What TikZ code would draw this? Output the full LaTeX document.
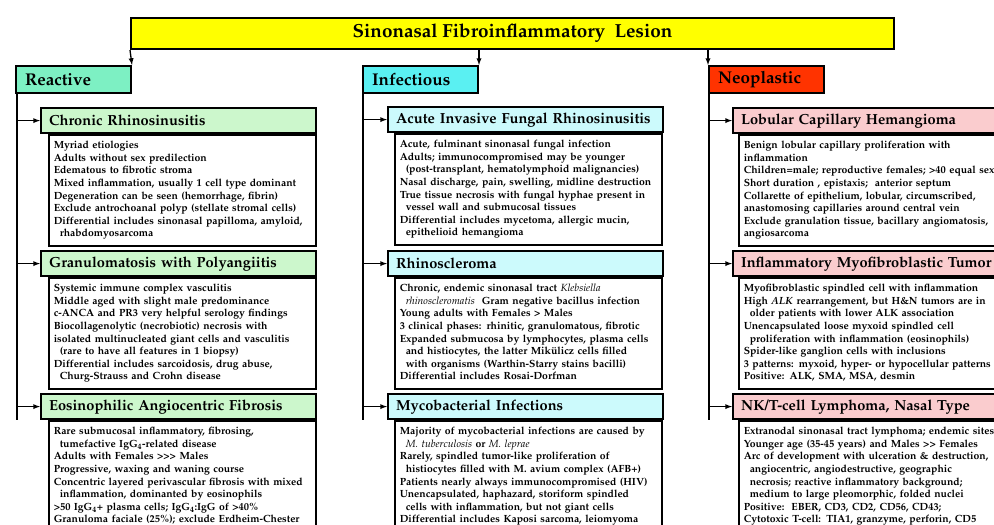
\documentclass[tikz,border=0pt]{standalone}
\usepackage[T1]{fontenc}
\usepackage{mathpazo}
\usepackage{xcolor}
\usepackage{tikz}
\usetikzlibrary{positioning, arrows}
\definecolor{lesionyellow}{RGB}{255,255,0}
\definecolor{reactgreen}{RGB}{125,240,195}
\definecolor{infectcyan}{RGB}{90,240,242}
\definecolor{neored}{RGB}{255,51,0}
\definecolor{palegreen}{RGB}{204,247,204}
\definecolor{palecyan}{RGB}{204,250,252}
\definecolor{palepink}{RGB}{250,204,206}
\newcommand{\indnt}{\hspace*{6pt}}
\newcommand{\gt}{\textgreater{}}
\newcommand{\celllines}[1]{\begin{tabular}{@{}l@{}}#1\end{tabular}}

\begin{document}
\begin{tikzpicture}[x=1pt, y=-1pt,
	lesion/.style={draw, line width=2pt, fill=lesionyellow, anchor=north west, minimum width=763pt, minimum height=31pt, font=\fontsize{18.9}{20}\bfseries\selectfont},
	group/.style={draw, line width=2pt, anchor=north west, minimum height=27pt, inner xsep=9pt, text width=97pt, align=left, font=\fontsize{17}{19}\bfseries\selectfont},
	entity/.style={draw, line width=2.2pt, anchor=north west, minimum height=25pt, inner xsep=8pt, text width=259pt, align=left, font=\fontsize{14.6}{17}\bfseries\selectfont},
	detail/.style={draw, line width=1.5pt, fill=white, anchor=north west, minimum height=110pt, inner xsep=5pt, inner ysep=5pt, text width=257pt, align=left, font=\fontsize{10.4}{12.6}\bfseries\selectfont},
	arr/.style={-latex, line width=1.3pt},
	trunk/.style={line width=1.6pt}]
	\useasboundingbox (0,0) rectangle (994,525);
	\clip (0,0) rectangle (994,525);
	
	\node[lesion] (lesion) at (130,17) {Sinonasal Fibroinflammatory\ \ Lesion};
	\node[group, fill=reactgreen] (reactive) at (15,65) {Reactive};
	\node[group, fill=infectcyan] (infectious) at (362,65) {Infectious};
	\node[group, fill=neored] (neoplastic) at (708,65) {Neoplastic};
	
	\draw[arr] (lesion.south west) -- (reactive.north east);
	\draw[arr] (lesion.south -| infectious.north east) -- (infectious.north east);
	\draw[arr] (lesion.south -| neoplastic.north west) -- (neoplastic.north west);
	
	%% reactive
	\node[entity, fill=palegreen] (crs) at (40,107) {Chronic Rhinosinusitis};
	\node[detail, below right=0pt and 8pt of crs.south west] (crsbody) {\celllines{Myriad etiologies\\ Adults without sex predilection\\ Edematous to fibrotic stroma\\ Mixed inflammation, usually 1 cell type dominant\\ Degeneration can be seen (hemorrhage, fibrin)\\ Exclude antrochoanal polyp (stellate stromal cells)\\ Differential includes sinonasal papilloma, amyloid,\\ \indnt rhabdomyosarcoma}};
	\node[entity, fill=palegreen] (gpa) at (40,250) {Granulomatosis with Polyangiitis};
	\node[detail, below right=0pt and 8pt of gpa.south west] (gpabody) {\celllines{Systemic immune complex vasculitis\\ Middle aged with slight male predominance\\ c-ANCA and PR3 very helpful serology findings\\ Biocollagenolytic (necrobiotic) necrosis with\\ isolated multinucleated giant cells and vasculitis\\ \indnt (rare to have all features in 1 biopsy)\\ Differential includes sarcoidosis, drug abuse,\\ \indnt Churg-Strauss and Crohn disease}};
	\node[entity, fill=palegreen] (eaf) at (40,393) {Eosinophilic Angiocentric Fibrosis};
	\node[detail, below right=0pt and 8pt of eaf.south west] (eafbody) {\celllines{Rare submucosal inflammatory, fibrosing,\\ \indnt tumefactive IgG\textsubscript{4}-related disease\\ Adults with Females \gt\gt\gt\ Males\\ Progressive, waxing and waning course\\ Concentric layered perivascular fibrosis with mixed\\ \indnt inflammation, dominanted by eosinophils\\ \gt 50 IgG\textsubscript{4}+ plasma cells; IgG\textsubscript{4}:IgG of \gt 40\%\\ Granuloma faciale (25\%); exclude Erdheim-Chester}};
	
	\coordinate (rtrunk) at ([xshift=2pt]reactive.south west);
	\draw[trunk] (rtrunk) -- (rtrunk |- eaf.south);
	\foreach \n in {crs, gpa, eaf}
		\draw[arr] (rtrunk |- \n.west) -- (\n.west);
	
	%% infectious
	\node[entity, fill=palecyan] (aifr) at (387,106) {Acute Invasive Fungal Rhinosinusitis};
	\node[detail, below right=0pt and 7pt of aifr.south west] (aifrbody) {\celllines{Acute, fulminant sinonasal fungal infection\\ Adults; immunocompromised may be younger\\ \indnt (post-transplant, hematolymphoid malignancies)\\ Nasal discharge, pain, swelling, midline destruction\\ True tissue necrosis with fungal hyphae present in\\ \indnt vessel wall and submucosal tissues\\ Differential includes mycetoma, allergic mucin,\\ \indnt epithelioid hemangioma}};
	\node[entity, fill=palecyan] (rhino) at (387,250) {Rhinoscleroma};
	\node[detail, below right=0pt and 7pt of rhino.south west] (rhinobody) {\celllines{Chronic, endemic sinonasal tract \textit{\mdseries Klebsiella}\\ \indnt\textit{\mdseries rhinoscleromatis}\ \ Gram negative bacillus infection\\ Young adults with Females \gt\ Males\\ 3 clinical phases: rhinitic, granulomatous, fibrotic\\ Expanded submucosa by lymphocytes, plasma cells\\ \indnt and histiocytes, the latter Mik\"ulicz cells filled\\ \indnt with organisms (Warthin-Starry stains bacilli)\\ Differential includes Rosai-Dorfman}};
	\node[entity, fill=palecyan] (myco) at (387,393) {Mycobacterial Infections};
	\node[detail, below right=0pt and 7pt of myco.south west] (mycobody) {\celllines{Majority of mycobacterial infections are caused by\\ \indnt\textit{\mdseries M. tuberculosis} or \textit{\mdseries M. leprae}\\ Rarely, spindled tumor-like proliferation of\\ \indnt histiocytes filled with M. avium complex (AFB+)\\ Patients nearly always immunocompromised (HIV)\\ Unencapsulated, haphazard, storiform spindled\\ \indnt cells with inflammation, but not giant cells\\ Differential includes Kaposi sarcoma, leiomyoma}};
	
	\coordinate (itrunk) at ([xshift=1pt]infectious.south west);
	\draw[trunk] (itrunk) -- (itrunk |- myco.south);
	\foreach \n in {aifr, rhino, myco}
		\draw[arr] (itrunk |- \n.west) -- (\n.west);
	
	%% neoplastic
	\node[entity, fill=palepink, text width=290pt] (lch) at (732,107) {Lobular Capillary Hemangioma};
	\node[detail, text width=290pt, below right=0pt and 6pt of lch.south west] (lchbody) {\celllines{Benign lobular capillary proliferation with\\ inflammation\\ Children=male; reproductive females; \gt 40 equal sex\\ Short duration , epistaxis;\ \ anterior septum\\ Collarette of epithelium, lobular, circumscribed,\\ anastomosing capillaries around central vein\\ Exclude granulation tissue, bacillary angiomatosis,\\ angiosarcoma}};
	\node[entity, fill=palepink, text width=290pt] (imt) at (732,250) {Inflammatory Myofibroblastic Tumor};
	\node[detail, text width=290pt, below right=0pt and 6pt of imt.south west] (imtbody) {\celllines{Myofibroblastic spindled cell with inflammation\\ High \textit{ALK} rearrangement, but H\&N tumors are in\\ \indnt older patients with lower ALK association\\ Unencapsulated loose myxoid spindled cell\\ \indnt proliferation with inflammation (eosinophils)\\ Spider-like ganglion cells with inclusions\\ 3 patterns: myxoid, hyper- or hypocellular patterns\\ Positive: ALK, SMA, MSA, desmin}};
	\node[entity, fill=palepink, text width=290pt] (nkt) at (732,393) {NK/T-cell Lymphoma, Nasal Type};
	\node[detail, text width=290pt, below right=0pt and 6pt of nkt.south west] (nktbody) {\celllines{Extranodal sinonasal tract lymphoma; endemic sites\\ Younger age (35-45 years) and Males \gt\gt\ Females\\ Arc of development with ulceration \& destruction,\\ \indnt angiocentric, angiodestructive, geographic\\ \indnt necrosis; reactive inflammatory background;\\ \indnt medium to large pleomorphic, folded nuclei\\ Positive:\ \ EBER, CD3, CD2, CD56, CD43;\\ Cytotoxic T-cell: TIA1, granzyme, perforin, CD5}};
	
	\coordinate (ntrunk) at ([xshift=1pt]neoplastic.south west);
	\draw[trunk] (ntrunk) -- (ntrunk |- nkt.south);
	\foreach \n in {lch, imt, nkt}
		\draw[arr] (ntrunk |- \n.west) -- (\n.west);
\end{tikzpicture}
\end{document}
